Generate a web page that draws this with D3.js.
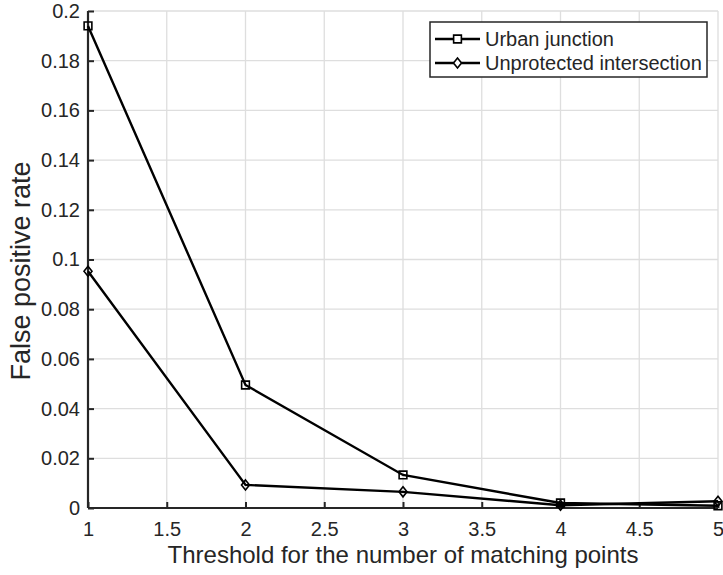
<!DOCTYPE html>
<html>
<head>
<meta charset="utf-8">
<script src="https://cdn.jsdelivr.net/npm/d3@7"></script>
<style>
body { margin: 0; background: #fff; }
text { font-family: "Liberation Sans", Arial, sans-serif; fill: #262626; }
</style>
</head>
<body>
<script>
var width = 723, height = 575;

var thresholds = [1, 2, 3, 4, 5];
var urban = [0.194, 0.0495, 0.0133, 0.002, 0.0009];
var unprotected = [0.0953, 0.0093, 0.0065, 0.0011, 0.0027];
var xTicks = [1, 1.5, 2, 2.5, 3, 3.5, 4, 4.5, 5];
var yTicks = [0, 0.02, 0.04, 0.06, 0.08, 0.1, 0.12, 0.14, 0.16, 0.18, 0.2];
var seriesNames = ["Urban junction", "Unprotected intersection"];

var margin = {left: 88, right: 5, top: 11, bottom: 67};

var svg = d3.select("body").append("svg")
            .attr("width", width).attr("height", height);

var x = d3.scaleLinear().domain([1, 5]).range([margin.left, width - margin.right]);
var y = d3.scaleLinear().domain([0, 0.2]).range([height - margin.bottom, margin.top]);

// grid
var grid = svg.append("g");
grid.selectAll(".vg").data(xTicks).enter().append("line")
    .attr("x1", function(d){ return x(d); }).attr("x2", function(d){ return x(d); })
    .attr("y1", y(0)).attr("y2", y(0.2))
    .attr("stroke", "#dedede").attr("stroke-width", 1.3);
grid.selectAll(".hg").data(yTicks).enter().append("line")
    .attr("x1", x(1)).attr("x2", x(5))
    .attr("y1", function(d){ return y(d); }).attr("y2", function(d){ return y(d); })
    .attr("stroke", "#dedede").attr("stroke-width", 1.3);

// axes, ticks pointing inside
var xAxis = svg.append("g").attr("transform", "translate(0," + y(0) + ")")
    .call(d3.axisBottom(x).tickValues(xTicks).tickSize(-6).tickPadding(14)
          .tickFormat(function(d){ return d; }));
var yAxis = svg.append("g").attr("transform", "translate(" + x(1) + ",0)")
    .call(d3.axisLeft(y).tickValues(yTicks).tickSize(-6).tickPadding(8)
          .tickFormat(function(d){ return d; }));
[xAxis, yAxis].forEach(function(a){
    a.select(".domain").attr("stroke", "#262626").attr("stroke-width", 2.2);
    a.selectAll(".tick line").attr("stroke", "#262626").attr("stroke-width", 2);
    a.selectAll(".tick text").attr("font-size", 20).attr("fill", "#262626");
});
xAxis.select(".domain").attr("d", "M" + x(1) + ",0H" + x(5));
yAxis.select(".domain").attr("d", "M0," + y(0) + "V" + y(0.2));

svg.append("text").attr("x", (x(1) + x(5)) / 2).attr("y", 563)
   .attr("text-anchor", "middle").attr("font-size", 24)
   .text("Threshold for the number of matching points");
svg.append("text").attr("transform", "translate(30,271) rotate(-90)")
   .attr("text-anchor", "middle").attr("font-size", 27)
   .text("False positive rate");

// lines
var line = d3.line().x(function(d, i){ return x(thresholds[i]); })
                    .y(function(d){ return y(d); });
var sq = d3.symbol().type(d3.symbolSquare).size(60);
var dia = "M0,-5L4,0L0,5L-4,0Z";

function drawSeries(vals, marker){
    svg.append("path").datum(vals).attr("d", line)
       .attr("fill", "none").attr("stroke", "#000").attr("stroke-width", 2.4);
    svg.append("g").selectAll("path").data(vals).enter().append("path")
       .attr("transform", function(d, i){ return "translate(" + x(thresholds[i]) + "," + y(d) + ")"; })
       .attr("d", marker).attr("fill", "none").attr("stroke", "#000").attr("stroke-width", 1.6);
}
drawSeries(urban, sq());
drawSeries(unprotected, dia);

// legend
var lg = svg.append("g").attr("transform", "translate(430,22)");
lg.append("rect").attr("width", 277).attr("height", 55)
  .attr("fill", "#fff").attr("stroke", "#262626").attr("stroke-width", 1.5);
var items = lg.selectAll(".legends").data(seriesNames).enter().append("g")
  .attr("transform", function(d, i){ return "translate(0," + (17 + i * 24) + ")"; });
items.append("line").attr("x1", 5).attr("x2", 50).attr("stroke", "#000").attr("stroke-width", 2.4);
items.append("path").attr("transform", "translate(27.5,0)")
  .attr("d", function(d, i){ return i === 0 ? sq() : dia; })
  .attr("fill", "#fff").attr("stroke", "#000").attr("stroke-width", 1.6);
items.append("text").attr("x", 55).attr("y", 7).attr("font-size", 20)
  .text(function(d){ return d; });
</script>
</body>
</html>
